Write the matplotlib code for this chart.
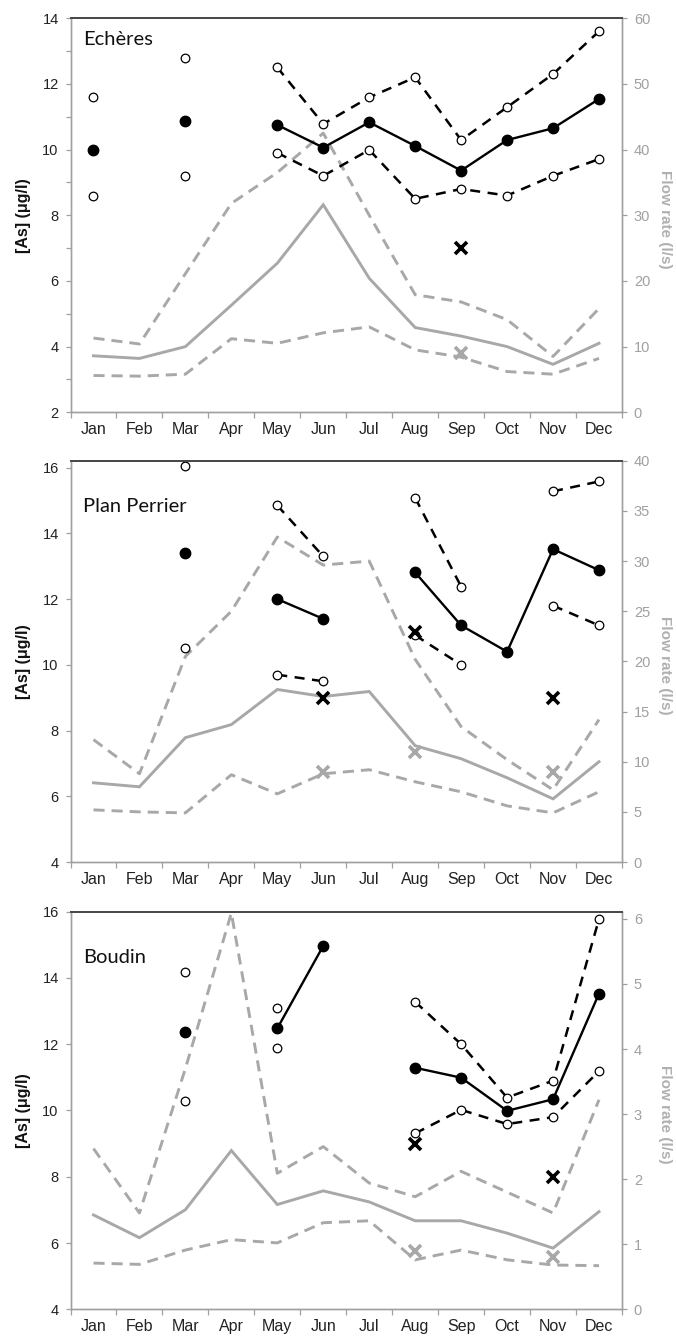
import numpy as np
import matplotlib
matplotlib.use('Agg')
import matplotlib.pyplot as plt
from matplotlib.ticker import FixedLocator, NullFormatter

plt.rcParams['font.family'] = ['Liberation Sans', 'DejaVu Sans']

nan = np.nan
months = ['Jan', 'Feb', 'Mar', 'Apr', 'May', 'Jun', 'Jul', 'Aug', 'Sep', 'Oct', 'Nov', 'Dec']
sites = ['Echères', 'Plan Perrier', 'Boudin']

# ---- Echères ----
ech_as_mean = [10.0, nan, 10.87, nan, 10.75, 10.06, 10.83, 10.11, 9.36, 10.29, 10.65, 11.54]
ech_as_high = [11.59, nan, 12.8, nan, 12.5, 10.78, 11.59, 12.2, 10.29, 11.29, 12.3, 13.6]
ech_as_low = [8.6, nan, 9.2, nan, 9.9, 9.2, 9.99, 8.5, 8.8, 8.6, 9.2, 9.71]
ech_as_cross = [nan, nan, nan, nan, nan, nan, nan, nan, 7.0, nan, nan, nan]
ech_flow_mean = [8.6, 8.2, 10.0, 16.3, 22.7, 31.6, 20.4, 12.9, 11.6, 10.0, 7.3, 10.5]
ech_flow_high = [11.3, 10.4, 21.1, 31.8, 36.5, 42.5, 30.0, 17.9, 16.8, 14.1, 8.5, 15.8]
ech_flow_low = [5.6, 5.5, 5.8, 11.2, 10.5, 12.1, 13.0, 9.5, 8.4, 6.2, 5.8, 8.2]
ech_flow_cross = [nan, nan, nan, nan, nan, nan, nan, nan, 9.0, nan, nan, nan]

# ---- Plan Perrier ----
pp_as_mean = [nan, nan, 13.4, nan, 12.0, 11.4, nan, 12.81, 11.2, 10.4, 13.52, 12.88]
pp_as_high = [nan, nan, 16.05, nan, 14.85, 13.3, nan, 15.08, 12.38, nan, 15.28, 15.58]
pp_as_low = [nan, nan, 10.5, nan, 9.7, 9.5, nan, 10.9, 10.0, nan, 11.8, 11.2]
pp_as_cross = [nan, nan, nan, nan, nan, 9.0, nan, 11.0, nan, nan, 9.0, nan]
pp_flow_mean = [7.9, 7.5, 12.4, 13.7, 17.2, 16.5, 17.0, 11.6, 10.3, 8.4, 6.3, 10.0]
pp_flow_high = [12.2, 8.8, 20.5, 25.0, 32.4, 29.6, 30.0, 20.2, 13.5, 10.2, 7.2, 14.2]
pp_flow_low = [5.2, 5.0, 4.9, 8.7, 6.8, 8.8, 9.2, 8.0, 7.0, 5.6, 4.9, 7.0]
pp_flow_cross = [nan, nan, nan, nan, nan, 9.0, nan, 11.0, nan, nan, 9.0, nan]

# ---- Boudin ----
bd_as_mean = [nan, nan, 12.36, nan, 12.48, 14.97, nan, 11.29, 10.99, 9.99, 10.34, 13.53]
bd_as_high = [nan, nan, 14.18, nan, 13.08, nan, nan, 13.28, 12.0, 10.39, 10.9, 15.78]
bd_as_low = [nan, nan, 10.29, nan, 11.9, nan, nan, 9.31, 10.02, 9.59, 9.8, 11.19]
bd_as_cross = [nan, nan, nan, nan, nan, nan, nan, 9.0, nan, nan, 8.0, nan]
bd_flow_mean = [1.45, 1.10, 1.53, 2.44, 1.61, 1.82, 1.65, 1.36, 1.36, 1.17, 0.94, 1.50]
bd_flow_high = [2.47, 1.48, 3.7, 6.09, 2.09, 2.5, 1.94, 1.73, 2.12, 1.8, 1.48, 3.22]
bd_flow_low = [0.71, 0.69, 0.91, 1.07, 1.02, 1.33, 1.36, 0.76, 0.91, 0.76, 0.68, 0.67]
bd_flow_cross = [nan, nan, nan, nan, nan, nan, nan, 0.9, nan, nan, 0.8, nan]

panels = [
    dict(name=sites[0], as_mean=ech_as_mean, as_high=ech_as_high, as_low=ech_as_low,
         as_cross=ech_as_cross, fl_mean=ech_flow_mean, fl_high=ech_flow_high,
         fl_low=ech_flow_low, fl_cross=ech_flow_cross,
         ylim=(2, 14), yticks=np.arange(2, 15, 2), yminor=np.arange(3, 14, 2),
         y2lim=(0, 60), y2ticks=np.arange(0, 61, 10),
         rect=(0.1043, 0.6921, 0.8158, 0.2943), title_y=0.932),
    dict(name=sites[1], as_mean=pp_as_mean, as_high=pp_as_high, as_low=pp_as_low,
         as_cross=pp_as_cross, fl_mean=pp_flow_mean, fl_high=pp_flow_high,
         fl_low=pp_flow_low, fl_cross=pp_flow_cross,
         ylim=(4, 16.21), yticks=np.arange(4, 17, 2), yminor=[],
         y2lim=(0, 40), y2ticks=np.arange(0, 41, 5),
         rect=(0.1043, 0.3562, 0.8158, 0.2997), title_y=0.873),
    dict(name=sites[2], as_mean=bd_as_mean, as_high=bd_as_high, as_low=bd_as_low,
         as_cross=bd_as_cross, fl_mean=bd_flow_mean, fl_high=bd_flow_high,
         fl_low=bd_flow_low, fl_cross=bd_flow_cross,
         ylim=(4, 16), yticks=np.arange(4, 17, 2), yminor=[],
         y2lim=(0, 6.11), y2ticks=np.arange(0, 7, 1),
         rect=(0.1043, 0.0222, 0.8158, 0.2969), title_y=0.872),
]

GRAY = '#a8a8a8'
SPINE = '#a0a0a0'
TICKCOL = '#a0a0a0'

fig = plt.figure(figsize=(6.76, 13.39), dpi=100)
x = np.arange(1, 13)

for p in panels:
    ax = fig.add_axes(p['rect'])
    ax2 = ax.twinx()
    ax.set_zorder(ax2.get_zorder() + 1)
    ax.patch.set_visible(False)

    # flow (right axis)
    ax2.plot(x, p['fl_mean'], color=GRAY, lw=2.1, solid_joinstyle='miter')
    ax2.plot(x, p['fl_high'], color=GRAY, lw=2.1, dashes=(3.8, 2.4))
    ax2.plot(x, p['fl_low'], color=GRAY, lw=2.1, dashes=(3.8, 2.4))
    ax2.plot(x, p['fl_cross'], ls='none', marker='x', color=GRAY, ms=8, mew=2.6)

    # arsenic (left axis)
    ax.plot(x, p['as_high'], color='black', lw=1.8, dashes=(4, 3),
            marker='o', ms=6.2, mfc='white', mec='black', mew=0.9)
    ax.plot(x, p['as_low'], color='black', lw=1.8, dashes=(4, 3),
            marker='o', ms=6.2, mfc='white', mec='black', mew=0.9)
    ax.plot(x, p['as_mean'], color='black', lw=1.7, marker='o', ms=7.5)
    ax.plot(x, p['as_cross'], ls='none', marker='x', color='black', ms=8, mew=2.6)

    ax.set_xlim(0.5, 12.5)
    ax.set_ylim(*p['ylim'])
    ax2.set_ylim(*p['y2lim'])

    ax.set_yticks(p['yticks'])
    ax.set_yticklabels([f'{v:g}' for v in p['yticks']])
    if len(p['yminor']):
        ax.yaxis.set_minor_locator(FixedLocator(p['yminor']))
    ax2.set_yticks(p['y2ticks'])
    ax2.set_yticklabels([f'{v:g}' for v in p['y2ticks']])

    ax.xaxis.set_major_locator(FixedLocator(np.arange(0.5, 13, 1)))
    ax.xaxis.set_major_formatter(NullFormatter())
    ax.xaxis.set_minor_locator(FixedLocator(x))
    ax.set_xticklabels(months, minor=True)

    ax.tick_params(axis='x', which='major', direction='out', length=4, width=0.9, color=TICKCOL)
    ax.tick_params(axis='x', which='minor', length=0, pad=7, labelsize=11.5, labelcolor='#222222')
    ax.tick_params(axis='y', which='both', direction='out', length=3.5, width=0.9,
                   color=TICKCOL, labelsize=10.5, pad=5, labelcolor='#222222')
    ax2.tick_params(axis='y', direction='out', length=3.5, width=0.9, color=TICKCOL,
                    labelsize=10.5, pad=5, labelcolor='#a0a0a0')

    for a in (ax, ax2):
        for s in ('left', 'right', 'bottom'):
            a.spines[s].set_color(SPINE)
            a.spines[s].set_linewidth(1.0)
        a.spines['top'].set_color('#4a4a4a')
        a.spines['top'].set_linewidth(1.4)

    ax.set_ylabel('[As] (μg/l)', fontsize=11.5, fontweight='bold', color='#111111')
    ax.yaxis.set_label_coords(-0.072, 0.5)
    ax2.set_ylabel('Flow rate (l/s)', fontsize=11, fontweight='bold', color='#b0b0b0',
                   rotation=270, va='center')
    ax2.yaxis.set_label_coords(1.078, 0.49)

    ax.text(0.023, p['title_y'], p['name'], transform=ax.transAxes, fontsize=14.5,
            family=['Lato', 'DejaVu Sans'], va='baseline', ha='left', color='#111111')

fig.savefig('out.png', dpi=100)
